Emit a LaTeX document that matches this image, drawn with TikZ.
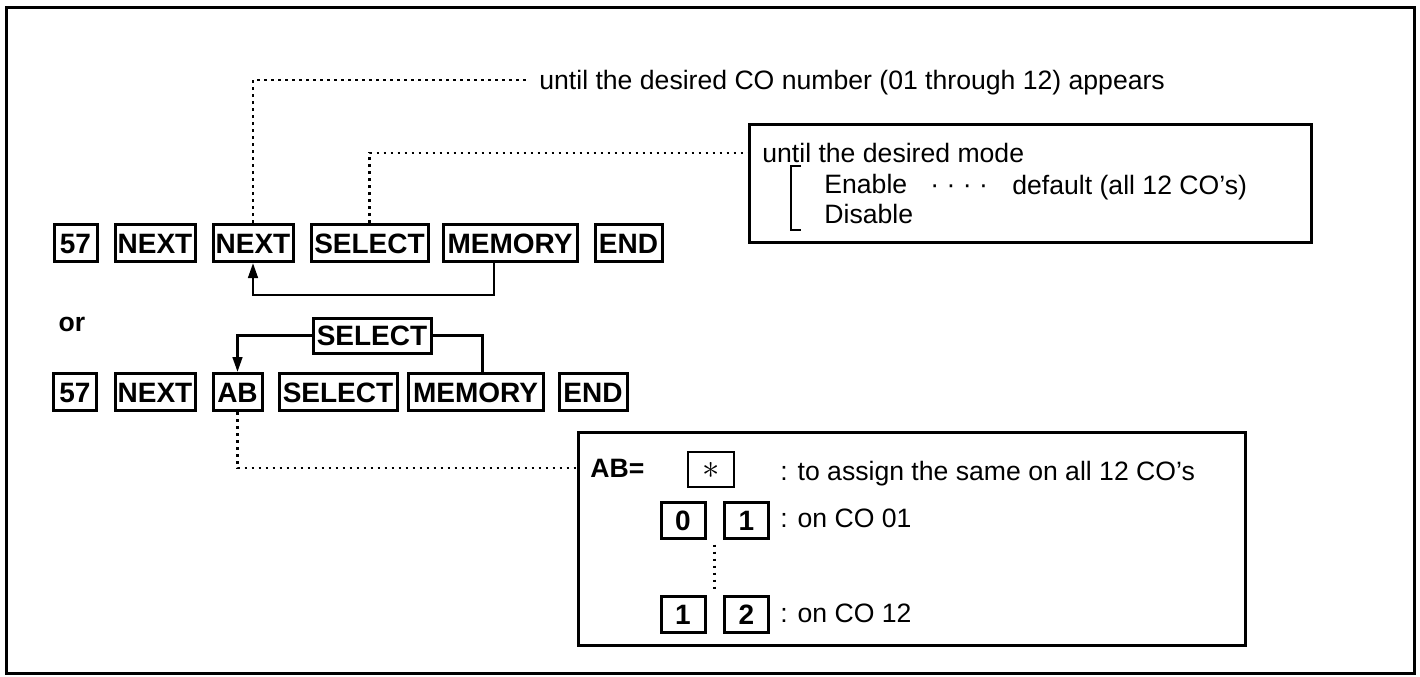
\documentclass[tikz,border=0pt]{standalone}
\usepackage{fontspec}
\setmainfont{Liberation Sans}
\usetikzlibrary{calc,arrows.meta,positioning}
\tikzset{
  kbox/.style={draw,line width=1.5pt,inner sep=0pt,minimum height=18.5pt,text height=10pt,text depth=0pt,font=\fontsize{14pt}{16pt}\selectfont\bfseries},
  txt/.style={anchor=west,inner sep=0pt,text height=9.5pt,text depth=0pt,font=\fontsize{13.3pt}{16pt}\selectfont},
  frm/.style={draw,line width=1.5pt,inner sep=0pt},
  ln/.style={line width=1.3pt},
  ar/.style={-{Triangle[length=7.5pt,width=4.8pt]},line width=1.3pt},
  dl/.style={line width=1.4pt,dash pattern=on 1.4pt off 2.1pt}
}
\begin{document}
\begin{tikzpicture}[x=0.5pt,y=-0.5pt]
\fill[white] (0,0) rectangle (1420,676);
\useasboundingbox (0,0) rectangle (1420,676);
\draw[frm] (6,7) rectangle (1414,673);
% first key sequence
\node[kbox,minimum width=21.5pt] (r1n57) at (75.5,243) {57};
\node[kbox,minimum width=40pt] (r1next) at (155,243) {NEXT};
\node[kbox,minimum width=40pt] (r1nextb) at (253,243) {NEXT};
\node[kbox,minimum width=58.5pt] (r1sel) at (369.5,243) {SELECT};
\node[kbox,minimum width=67pt] (r1mem) at (510,243) {MEMORY};
\node[kbox,minimum width=33.5pt] (r1end) at (628.5,243) {END};
\draw[ar] ($(r1mem.south)+(-16,0)$) -- ++(0,32) -| (r1nextb.south);
% notes of the first sequence
\node[txt,inner xsep=5pt] (tco) at (529,80) {until the desired CO number (01 through 12) appears};
\draw[dl] (r1nextb.north) |- (tco.west);
\node[frm,minimum width=281pt,minimum height=59pt] (modebx) at (1030,183) {};
\node[txt] (mdt) at (762,153) {until the desired mode};
\draw[dl] (r1sel.north) |- (modebx.west |- mdt.west);
\draw[line width=1.3pt] (801,166) -- (791,166) -- (791,230) -- (801,230);
\node[txt] (enb) at (824,184) {Enable};
\node[txt] (edots) at (930,184) {· · · ·};
\node[txt] (dflt) at (1012,185) {default (all 12 CO’s)};
\node[txt] (dsb) at (824,214) {Disable};
% or
\node[txt,anchor=center,font=\fontsize{13.3pt}{16pt}\selectfont\bfseries] (orw) at (72,322) {or};
% second key sequence
\node[kbox,minimum width=21.5pt] (r2n57) at (75,392) {57};
\node[kbox,minimum width=40pt] (r2next) at (155,392) {NEXT};
\node[kbox,minimum width=24.5pt] (r2ab) at (237.5,392) {AB};
\node[kbox,minimum width=59pt] (r2sel) at (338,392) {SELECT};
\node[kbox,minimum width=67.5pt] (r2mem) at (475.5,392) {MEMORY};
\node[kbox,minimum width=34pt] (r2end) at (593,392) {END};
\node[kbox,minimum width=59pt,minimum height=17.5pt] (selup) at (372,335.5) {SELECT};
\draw[ar] (selup.west) -| (r2ab.north);
\draw[ln] (selup.east) -| ($(r2mem.north)+(7,0)$);
% AB choices
\node[frm,minimum width=333.5pt,minimum height=106.5pt] (abbx) at (911.5,538.5) {};
\node[txt,font=\fontsize{13.3pt}{16pt}\selectfont\bfseries] (abeq) at (590,468) {AB=};
\draw[dl] (r2ab.south) |- (abbx.west |- abeq.west);
\node[kbox,line width=1pt,minimum width=23pt,minimum height=17.5pt,text height=8.5pt,font=\fontsize{17pt}{20pt}\selectfont] (stk) at (711,469.5) {$\ast$};
\node[txt] (tas) at (780,471) {: to assign the same on all 12 CO’s};
\node[kbox,minimum width=22pt,minimum height=18pt] (kz) at (683,520) {0};
\node[kbox,minimum width=22pt,minimum height=18pt] (ko) at (746.5,520) {1};
\node[txt] (co01) at (780,518) {: on CO 01};
\node[kbox,minimum width=22pt,minimum height=18pt] (kt) at (683,614.5) {1};
\node[kbox,minimum width=22pt,minimum height=18pt] (kw) at (746.5,614.5) {2};
\node[txt] (co12) at (780,613) {: on CO 12};
\draw[dl] ($(kz.south)!.5!(ko.south)+(0,5)$) -- ($(kt.north)!.5!(kw.north)+(0,-4)$);
\end{tikzpicture}
\end{document}
